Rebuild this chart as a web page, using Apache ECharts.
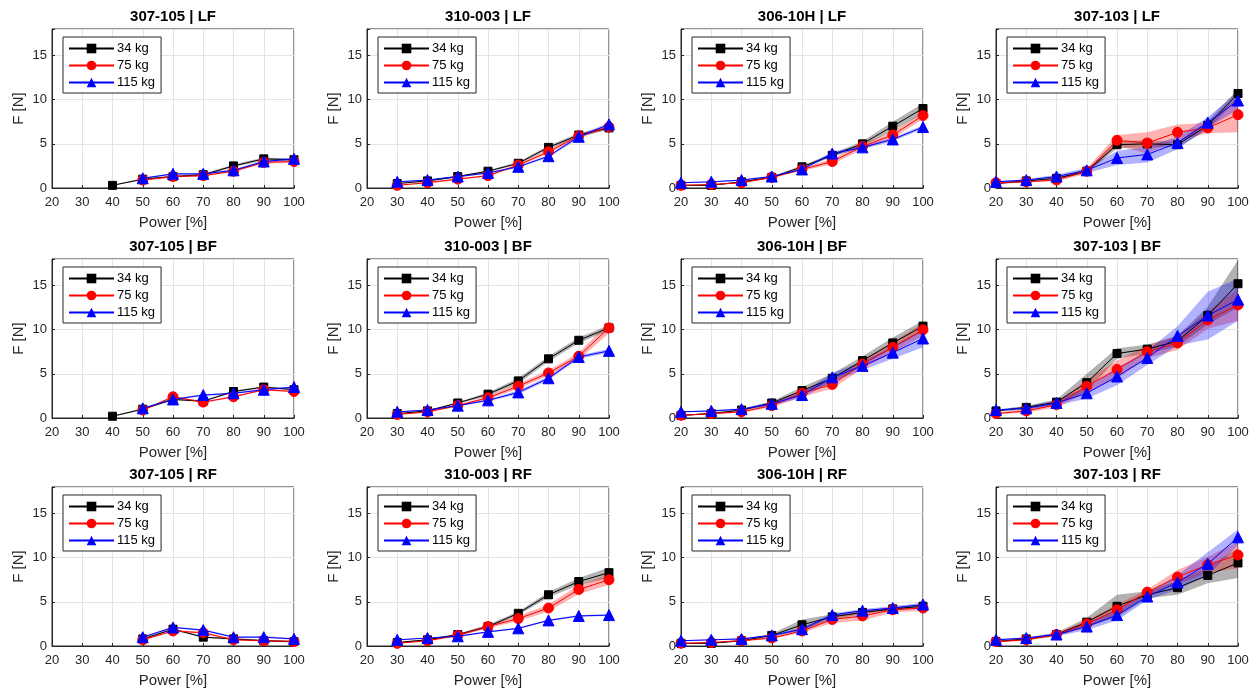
<!DOCTYPE html>
<html>
<head>
<meta charset="utf-8">
<title>F vs Power</title>
<script src="https://cdn.jsdelivr.net/npm/echarts@6/dist/echarts.min.js"></script>
<style>
  html, body { margin: 0; padding: 0; background: #fff; }
  #chart { width: 1258px; height: 692px; }
</style>
</head>
<body>
<div id="chart"></div>
<script>
// x values and series names
const powers = [20, 30, 40, 50, 60, 70, 80, 90, 100];
const loads = ['34 kg', '75 kg', '115 kg'];
const titles = [
  '307-105 | LF', '310-003 | LF', '306-10H | LF', '307-103 | LF',
  '307-105 | BF', '310-003 | BF', '306-10H | BF', '307-103 | BF',
  '307-105 | RF', '310-003 | RF', '306-10H | RF', '307-103 | RF'
];

// means per load (34, 75, 115 kg), null = not measured
const lf_307105 = [
  [null, null, 0.3, 1.0, 1.3, 1.5, 2.5, 3.3, 3.2],
  [null, null, null, 0.9, 1.3, 1.4, 1.9, 2.9, 3.0],
  [null, null, null, 1.1, 1.6, 1.6, 2.0, 3.0, 3.3]
];
const lf_307105_sd = [
  [null, null, 0.05, 0.1, 0.1, 0.1, 0.15, 0.15, 0.15],
  [null, null, null, 0.1, 0.1, 0.1, 0.1, 0.15, 0.15],
  [null, null, null, 0.1, 0.1, 0.1, 0.1, 0.15, 0.15]
];
const lf_310003 = [
  [null, 0.5, 0.8, 1.3, 1.9, 2.8, 4.6, 6.0, 6.8],
  [null, 0.3, 0.6, 1.0, 1.4, 2.6, 4.1, 5.9, 6.9],
  [null, 0.7, 0.9, 1.3, 1.7, 2.4, 3.6, 5.8, 7.2]
];
const lf_310003_sd = [
  [null, 0.05, 0.1, 0.1, 0.1, 0.15, 0.2, 0.2, 0.2],
  [null, 0.05, 0.1, 0.1, 0.1, 0.15, 0.2, 0.2, 0.2],
  [null, 0.05, 0.1, 0.1, 0.1, 0.1, 0.15, 0.2, 0.2]
];
const lf_30610h = [
  [0.3, 0.3, 0.7, 1.2, 2.4, 3.7, 5.0, 7.0, 9.0],
  [0.3, 0.4, 0.6, 1.2, 2.1, 3.0, 4.7, 6.0, 8.2],
  [0.6, 0.7, 0.9, 1.3, 2.1, 3.9, 4.6, 5.5, 6.9]
];
const lf_30610h_sd = [
  [0.05, 0.05, 0.1, 0.1, 0.15, 0.2, 0.3, 0.5, 0.6],
  [0.05, 0.05, 0.1, 0.1, 0.15, 0.3, 0.3, 0.4, 0.4],
  [0.05, 0.05, 0.1, 0.1, 0.1, 0.2, 0.2, 0.2, 0.2]
];
const lf_307103 = [
  [0.5, 0.8, 1.1, 1.9, 4.9, 5.0, 4.9, 7.1, 10.7],
  [0.6, 0.7, 0.9, 1.9, 5.4, 5.1, 6.3, 6.8, 8.3],
  [0.7, 0.9, 1.3, 2.0, 3.4, 3.8, 5.1, 7.4, 9.9]
];
const lf_307103_sd = [
  [0.1, 0.1, 0.1, 0.2, 0.4, 0.4, 0.3, 0.5, 0.5],
  [0.1, 0.1, 0.1, 0.3, 0.6, 1.2, 0.9, 0.6, 2.0],
  [0.1, 0.1, 0.2, 0.3, 0.8, 0.9, 0.7, 0.6, 1.0]
];
const bf_307105 = [
  [null, null, 0.2, 1.0, 2.1, 1.9, 3.0, 3.5, 3.2],
  [null, null, null, 0.9, 2.4, 1.8, 2.4, 3.2, 3.0],
  [null, null, null, 1.1, 2.1, 2.6, 2.8, 3.2, 3.5]
];
const bf_307105_sd = [
  [null, null, 0.05, 0.1, 0.1, 0.1, 0.1, 0.1, 0.1],
  [null, null, null, 0.1, 0.1, 0.1, 0.1, 0.1, 0.1],
  [null, null, null, 0.1, 0.1, 0.1, 0.1, 0.1, 0.1]
];
const bf_310003 = [
  [null, 0.5, 0.8, 1.7, 2.7, 4.2, 6.7, 8.8, 10.2],
  [null, 0.4, 0.7, 1.4, 2.3, 3.6, 5.1, 7.0, 10.2],
  [null, 0.7, 0.9, 1.4, 2.0, 2.9, 4.5, 6.9, 7.6]
];
const bf_310003_sd = [
  [null, 0.05, 0.1, 0.1, 0.2, 0.3, 0.3, 0.3, 0.3],
  [null, 0.05, 0.1, 0.1, 0.2, 0.3, 0.3, 0.4, 0.6],
  [null, 0.05, 0.1, 0.1, 0.1, 0.2, 0.2, 0.2, 0.2]
];
const bf_30610h = [
  [0.3, 0.5, 0.9, 1.7, 3.1, 4.5, 6.5, 8.5, 10.4],
  [0.3, 0.5, 0.7, 1.4, 2.8, 3.8, 6.1, 8.0, 10.0],
  [0.7, 0.8, 1.0, 1.6, 2.6, 4.6, 5.9, 7.4, 9.0]
];
const bf_30610h_sd = [
  [0.05, 0.1, 0.1, 0.2, 0.4, 0.5, 0.5, 0.6, 0.6],
  [0.05, 0.1, 0.1, 0.2, 0.4, 0.5, 0.5, 0.6, 0.7],
  [0.05, 0.1, 0.1, 0.2, 0.3, 0.5, 0.5, 0.7, 1.0]
];
const bf_307103 = [
  [0.8, 1.2, 1.8, 4.0, 7.3, 7.8, 8.7, 11.6, 15.2],
  [0.5, 0.8, 1.5, 3.6, 5.5, 7.5, 8.5, 11.1, 12.8],
  [0.9, 1.1, 1.7, 2.8, 4.7, 6.8, 9.3, 11.6, 13.4]
];
const bf_307103_sd = [
  [0.1, 0.2, 0.3, 1.0, 0.6, 0.5, 0.6, 1.0, 2.7],
  [0.1, 0.2, 0.3, 0.7, 1.0, 0.7, 0.8, 1.0, 1.8],
  [0.1, 0.2, 0.3, 0.6, 1.0, 0.8, 1.1, 2.7, 2.4]
];
const rf_307105 = [
  [null, null, null, 0.8, 1.9, 1.0, 0.8, 0.6, 0.5],
  [null, null, null, 0.7, 1.7, 1.5, 0.7, 0.6, 0.5],
  [null, null, null, 1.0, 2.1, 1.8, 1.0, 1.0, 0.8]
];
const rf_307105_sd = [
  [null, null, null, 0.1, 0.1, 0.1, 0.1, 0.1, 0.1],
  [null, null, null, 0.1, 0.1, 0.1, 0.1, 0.1, 0.1],
  [null, null, null, 0.1, 0.1, 0.1, 0.1, 0.1, 0.1]
];
const rf_310003 = [
  [null, 0.4, 0.7, 1.3, 2.2, 3.7, 5.8, 7.3, 8.3],
  [null, 0.3, 0.6, 1.2, 2.2, 3.1, 4.3, 6.4, 7.5],
  [null, 0.7, 0.9, 1.1, 1.6, 2.0, 2.9, 3.4, 3.5]
];
const rf_310003_sd = [
  [null, 0.05, 0.1, 0.1, 0.2, 0.2, 0.3, 0.4, 0.6],
  [null, 0.05, 0.1, 0.1, 0.2, 0.3, 0.4, 0.5, 0.6],
  [null, 0.05, 0.05, 0.1, 0.1, 0.1, 0.1, 0.1, 0.1]
];
const rf_30610h = [
  [0.3, 0.3, 0.6, 1.2, 2.4, 3.3, 3.8, 4.2, 4.5],
  [0.3, 0.4, 0.6, 0.9, 1.7, 3.0, 3.4, 4.1, 4.3],
  [0.6, 0.7, 0.8, 1.2, 1.9, 3.5, 4.0, 4.3, 4.7]
];
const rf_30610h_sd = [
  [0.05, 0.05, 0.1, 0.2, 0.6, 0.3, 0.2, 0.2, 0.2],
  [0.05, 0.05, 0.1, 0.1, 0.2, 0.4, 0.5, 0.3, 0.3],
  [0.05, 0.05, 0.1, 0.1, 0.2, 0.2, 0.2, 0.2, 0.2]
];
const rf_307103 = [
  [0.5, 0.8, 1.3, 2.7, 4.5, 5.8, 6.6, 8.0, 9.4],
  [0.5, 0.7, 1.3, 2.5, 4.1, 6.1, 7.8, 9.2, 10.3],
  [0.7, 0.9, 1.3, 2.2, 3.5, 5.6, 7.2, 9.3, 12.3]
];
const rf_307103_sd = [
  [0.1, 0.1, 0.2, 0.5, 1.3, 0.4, 0.8, 0.9, 1.7],
  [0.1, 0.1, 0.2, 0.4, 0.6, 0.3, 0.8, 0.9, 1.5],
  [0.1, 0.1, 0.2, 0.4, 0.6, 0.4, 0.8, 1.3, 0.9]
];

const means = [lf_307105, lf_310003, lf_30610h, lf_307103,
               bf_307105, bf_310003, bf_30610h, bf_307103,
               rf_307105, rf_310003, rf_30610h, rf_307103];
const spreads = [lf_307105_sd, lf_310003_sd, lf_30610h_sd, lf_307103_sd,
                 bf_307105_sd, bf_310003_sd, bf_30610h_sd, bf_307103_sd,
                 rf_307105_sd, rf_310003_sd, rf_30610h_sd, rf_307103_sd];

// layout
const colLeft = [52, 367, 681, 996];
const rowTop = [29, 259, 487];
const plotW = 242, plotH = 159;
const FONT = '"Liberation Sans", Arial, Helvetica, sans-serif';
const AX = '#262626';

const lineColors = ['#000000', '#ff0000', '#0000ff'];
const bandColors = ['rgba(0,0,0,0.3)', 'rgba(255,0,0,0.3)', 'rgba(0,0,255,0.3)'];
const symbols = ['rect', 'circle', 'triangle'];
const symbolSizes = [8, 10, 11];

const grids = [], xAxes = [], yAxes = [], legends = [], graphics = [], series = [];

function bandSeries(gi, mean, sd, k) {
  const pts = [];
  powers.forEach((p, i) => {
    if (mean[i] != null) pts.push([p, Math.max(0, mean[i] - sd[i]), Math.min(18, mean[i] + sd[i])]);
  });
  return {
    type: 'custom',
    xAxisIndex: gi,
    yAxisIndex: gi,
    silent: true,
    clip: true,
    z: 1,
    data: pts,
    encode: { x: 0, y: [1, 2] },
    renderItem: function (params, api) {
      if (params.dataIndex !== 0) return;
      const upper = pts.map(d => api.coord([d[0], d[2]]));
      const lower = pts.map(d => api.coord([d[0], d[1]])).reverse();
      return {
        type: 'polygon',
        shape: { points: upper.concat(lower) },
        style: { fill: bandColors[k], stroke: null }
      };
    }
  };
}

titles.forEach((t, gi) => {
  const r = Math.floor(gi / 4), c = gi % 4;
  const left = colLeft[c], top = rowTop[r];
  grids.push({
    left: left, top: top, width: plotW, height: plotH,
    show: true, borderColor: AX, borderWidth: 1, backgroundColor: '#fff'
  });
  xAxes.push({
    type: 'value', gridIndex: gi, min: 20, max: 100, interval: 10,
    name: 'Power [%]', nameLocation: 'middle', nameGap: 27,
    nameTextStyle: { fontFamily: FONT, fontSize: 15, color: AX },
    axisLine: { show: true, lineStyle: { color: AX, width: 1 } },
    axisTick: { show: true, inside: true, length: 3, lineStyle: { color: AX } },
    axisLabel: { fontFamily: FONT, fontSize: 13, color: AX, margin: 8 },
    splitLine: { show: true, lineStyle: { color: '#e3e3e3', width: 1 } }
  });
  yAxes.push({
    type: 'value', gridIndex: gi, min: 0, max: 18, interval: 5,
    name: 'F [N]', nameLocation: 'middle', nameGap: 26,
    nameTextStyle: { fontFamily: FONT, fontSize: 15, color: AX },
    axisLine: { show: true, lineStyle: { color: AX, width: 1 } },
    axisTick: { show: true, inside: true, length: 3, lineStyle: { color: AX } },
    axisLabel: {
      fontFamily: FONT, fontSize: 13, color: AX, margin: 5,
      formatter: v => (v % 5 === 0 ? String(v) : '')
    },
    splitLine: { show: true, lineStyle: { color: '#e3e3e3', width: 1 } }
  });
  legends.push({
    left: left + 11, top: top + 8,
    orient: 'vertical',
    data: loads,
    itemWidth: 45, itemHeight: 12, itemGap: 4,
    padding: [5, 6, 4, 5],
    borderColor: AX, borderWidth: 1, borderRadius: 0,
    backgroundColor: '#fff',
    selectedMode: false,
    textStyle: { fontFamily: FONT, fontSize: 13, color: '#000', padding: [0, 0, 0, -2] }
  });
  graphics.push({
    type: 'text', x: left + plotW / 2, y: top - 12,
    style: {
      text: t, fontFamily: FONT, fontSize: 15, fontWeight: 'bold',
      fill: '#000', textAlign: 'center', textVerticalAlign: 'middle'
    }
  });

  const m = means[gi], s = spreads[gi];
  for (let k = 0; k < 3; k++) series.push(bandSeries(gi, m[k], s[k], k));
  for (let k = 0; k < 3; k++) {
    series.push({
      type: 'line', name: loads[k], xAxisIndex: gi, yAxisIndex: gi,
      data: powers.map((p, i) => [p, m[k][i]]),
      symbol: symbols[k], symbolSize: symbolSizes[k],
      showAllSymbol: true,
      connectNulls: false,
      lineStyle: { color: lineColors[k], width: 1 },
      itemStyle: { color: lineColors[k], borderColor: lineColors[k] },
      z: 3 + k,
      animation: false
    });
  }
});

const chart = echarts.init(document.getElementById('chart'), null, { renderer: 'canvas' });
chart.setOption({
  backgroundColor: '#fff',
  animation: false,
  grid: grids,
  xAxis: xAxes,
  yAxis: yAxes,
  legend: legends,
  graphic: graphics,
  series: series
});
</script>
</body>
</html>
